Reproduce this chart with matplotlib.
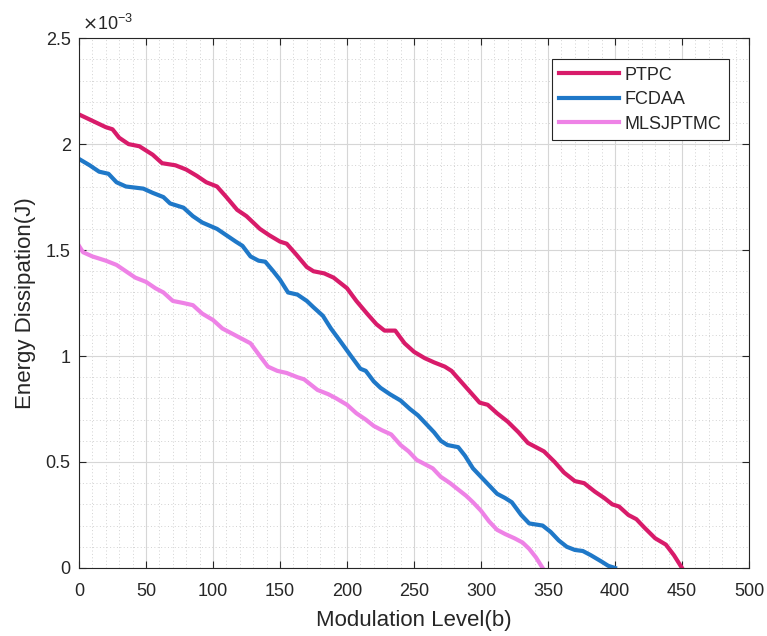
import matplotlib

matplotlib.use("Agg")
import matplotlib.pyplot as plt
from matplotlib.ticker import FuncFormatter, MultipleLocator

# energy values are in units of 1e-3 J
ptpc_x = [0, 10, 20, 25, 30, 37, 45, 55, 62, 72, 80, 88, 95, 103, 110, 118, 125, 135, 142,
          150, 155, 162, 170, 175, 183, 190, 200, 207, 215, 222, 228, 236, 243, 250, 258,
          265, 273, 278, 285, 292, 299, 305, 312, 320, 328, 335, 341, 347, 355, 362, 370,
          377, 385, 392, 398, 403, 410, 416, 422, 430, 438, 444, 450]
ptpc_y = [2.14, 2.11, 2.08, 2.07, 2.03, 2.00, 1.99, 1.95, 1.91, 1.90, 1.88, 1.85, 1.82, 1.80,
          1.75, 1.69, 1.66, 1.60, 1.57, 1.54, 1.53, 1.48, 1.42, 1.40, 1.39, 1.37, 1.32, 1.26,
          1.20, 1.15, 1.12, 1.12, 1.06, 1.02, 0.99, 0.97, 0.95, 0.93, 0.88, 0.83, 0.78, 0.77,
          0.73, 0.69, 0.64, 0.59, 0.57, 0.55, 0.50, 0.45, 0.41, 0.40, 0.36, 0.33, 0.30, 0.29,
          0.25, 0.23, 0.19, 0.14, 0.11, 0.06, 0.00]

fcdaa_x = [0, 8, 15, 22, 28, 35, 48, 55, 63, 68, 78, 85, 92, 103, 110, 117, 122, 128, 134,
           139, 145, 150, 156, 163, 170, 175, 182, 188, 195, 203, 210, 214, 220, 225, 232,
           240, 247, 253, 259, 265, 270, 275, 283, 288, 294, 300, 306, 312, 318, 323, 330,
           336, 346, 352, 358, 364, 370, 376, 382, 390, 395, 400]
fcdaa_y = [1.93, 1.90, 1.87, 1.86, 1.82, 1.80, 1.79, 1.77, 1.75, 1.72, 1.70, 1.66, 1.63, 1.60,
           1.57, 1.54, 1.52, 1.47, 1.45, 1.445, 1.40, 1.36, 1.30, 1.29, 1.26, 1.23, 1.19, 1.13,
           1.07, 1.00, 0.94, 0.93, 0.88, 0.85, 0.82, 0.79, 0.75, 0.72, 0.68, 0.64, 0.60, 0.58,
           0.57, 0.53, 0.47, 0.43, 0.39, 0.35, 0.33, 0.31, 0.25, 0.21, 0.20, 0.17, 0.13, 0.10,
           0.085, 0.08, 0.06, 0.03, 0.01, 0.00]

mls_x = [0, 3, 10, 20, 28, 35, 42, 50, 57, 63, 70, 78, 85, 92, 100, 107, 113, 122, 128, 135,
         141, 148, 155, 163, 168, 172, 178, 186, 192, 200, 207, 214, 220, 226, 233, 240, 246,
         252, 258, 264, 270, 277, 283, 289, 294, 300, 306, 312, 318, 325, 331, 336, 341, 346]
mls_y = [1.52, 1.49, 1.47, 1.45, 1.43, 1.40, 1.37, 1.35, 1.32, 1.30, 1.26, 1.25, 1.24, 1.20,
         1.17, 1.13, 1.11, 1.08, 1.06, 1.00, 0.95, 0.93, 0.92, 0.90, 0.89, 0.87, 0.84, 0.82,
         0.80, 0.77, 0.73, 0.70, 0.67, 0.65, 0.63, 0.58, 0.55, 0.51, 0.49, 0.47, 0.43, 0.40,
         0.37, 0.34, 0.31, 0.27, 0.22, 0.18, 0.16, 0.14, 0.12, 0.09, 0.05, 0.00]

x_ticks = [0, 50, 100, 150, 200, 250, 300, 350, 400, 450, 500]
y_ticks = [0, 0.5, 1, 1.5, 2, 2.5]

TEXT_COLOR = "#262626"
AXIS_COLOR = "#262626"

plt.rcParams.update({
    "font.family": ["Liberation Sans", "DejaVu Sans"],
    "font.size": 13,
})

fig = plt.figure(figsize=(7.67, 6.36), dpi=100)
ax = fig.add_axes([0.103, 0.107, 0.8735, 0.833])

ax.plot(ptpc_x, ptpc_y, color="#D81B6A", linewidth=3.0, label="PTPC")
ax.plot(fcdaa_x, fcdaa_y, color="#1F78C8", linewidth=3.0, label="FCDAA")
ax.plot(mls_x, mls_y, color="#EE82E6", linewidth=3.0, label="MLSJPTMC")

ax.set_xlim(0, 500)
ax.set_ylim(0, 2.5)
ax.set_xticks(x_ticks)
ax.set_yticks(y_ticks)
ax.xaxis.set_minor_locator(MultipleLocator(10))
ax.yaxis.set_minor_locator(MultipleLocator(0.1))
ax.yaxis.set_major_formatter(FuncFormatter(lambda v, _pos: f"{v:g}"))

ax.grid(True, which="major", color="#D6D6D6", linewidth=0.8)
ax.grid(True, which="minor", color="#D2D2D2", linestyle=(0, (1, 2.5)), linewidth=0.7)
ax.set_axisbelow(True)

ax.tick_params(which="major", direction="in", length=5, width=0.8, top=True, right=True,
               colors=AXIS_COLOR, labelcolor=TEXT_COLOR, labelsize=13, pad=6)
ax.tick_params(axis="x", which="major", pad=11)
ax.tick_params(which="minor", length=0, top=True, right=True)
for spine in ax.spines.values():
    spine.set_color(AXIS_COLOR)
    spine.set_linewidth(0.8)

ax.set_xlabel("Modulation Level(b)", fontsize=16, color=TEXT_COLOR, labelpad=7)
ax.set_ylabel("Energy Dissipation(J)", fontsize=16, color=TEXT_COLOR, labelpad=7)
ax.text(0.004, 1.008, r"$\times\mathregular{10^{-3}}$", transform=ax.transAxes,
        fontsize=13, color=TEXT_COLOR, ha="left", va="bottom")

leg = ax.legend(loc="upper right", bbox_to_anchor=(0.970, 0.960), fontsize=13,
                frameon=True, fancybox=False, edgecolor="#262626", framealpha=1,
                handlelength=3.3, handletextpad=0.33, labelspacing=0.42, borderpad=0.4,
                borderaxespad=0)
leg.get_frame().set_linewidth(0.8)
for t in leg.get_texts():
    t.set_color(TEXT_COLOR)

fig.savefig("out.png", dpi=100)
